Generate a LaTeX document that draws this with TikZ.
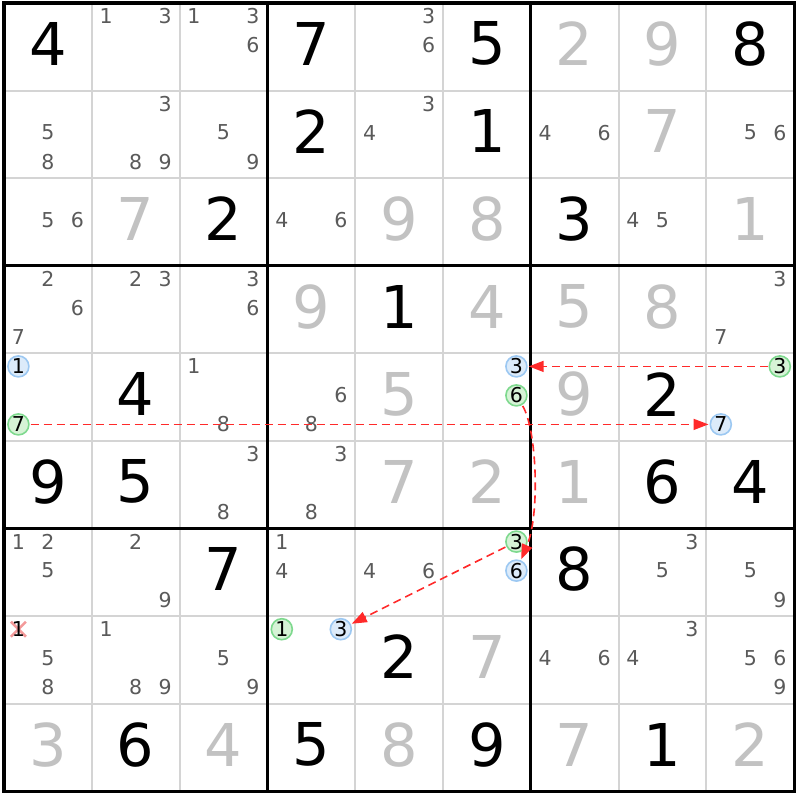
\documentclass[tikz,border=0pt]{standalone}
\usepackage{fontspec}
\setmainfont{DejaVu Sans}
\usetikzlibrary{arrows.meta,calc}
\definecolor{solvedgray}{HTML}{C2C2C2}
\definecolor{candgray}{HTML}{5A5A5A}
\definecolor{gridthin}{HTML}{D4D4D4}
\definecolor{bluefill}{HTML}{DCEBFA}
\definecolor{blueline}{HTML}{9CC8F2}
\definecolor{greenfill}{HTML}{D6F3D6}
\definecolor{greenline}{HTML}{7ED98E}
\definecolor{linkred}{HTML}{FF2A2A}
\definecolor{crosspink}{HTML}{F39A9A}
\begin{document}
\begin{tikzpicture}[x=1pt,y=-1pt,
 givend/.style={font=\fontsize{59}{59}\selectfont, text=black, inner sep=0pt},
 solvedd/.style={givend, text=solvedgray},
 candd/.style={font=\fontsize{20.5}{20.5}\selectfont, text=candgray, inner sep=0pt},
 bluec/.style={circle, draw=blueline, fill=bluefill, line width=1.6pt, minimum size=21pt, inner sep=0pt, font=\fontsize{20.5}{20.5}\selectfont, text=black},
 greenc/.style={bluec, draw=greenline, fill=greenfill},
 link/.style={draw=linkred, line width=1.6pt, dash pattern=on 8pt off 5pt, -{Triangle[length=15pt,width=11pt]}, shorten >=1pt, shorten <=1pt},
 thinline/.style={draw=gridthin, line width=2pt},
 thickline/.style={draw=black, line width=3.2pt}
]
\useasboundingbox (0,0) rectangle (800,800);
\fill[white] (0,0) rectangle (800,800);
% grid
\foreach \i in {1,2,4,5,7,8}{
  \draw[thinline] ({4+87.8*\i},3) -- ({4+87.8*\i},791.4);
  \draw[thinline] (4,{3+87.6*\i}) -- (794.2,{3+87.6*\i});
}
\foreach \i in {0,3,6,9}{
  \draw[thickline] ({4+87.8*\i},1.4) -- ({4+87.8*\i},793);
  \draw[thickline] (2.4,{3+87.6*\i}) -- (795.8,{3+87.6*\i});
}
% given digits
\foreach \r/\c/\d in {0/0/4,0/3/7,0/5/5,0/8/8,1/3/2,1/5/1,2/2/2,2/6/3,3/4/1,4/1/4,4/7/2,5/0/9,5/1/5,5/7/6,5/8/4,6/2/7,6/6/8,7/4/2,8/1/6,8/3/5,8/5/9,8/7/1}{
  \node[givend] (gv-\r-\c) at ({4+87.8*(\c+0.5)},{3+87.6*(\r+0.5)-3}) {\d};
}
% solved digits
\foreach \r/\c/\d in {0/6/2,0/7/9,1/7/7,2/1/7,2/4/9,2/5/8,2/8/1,3/3/9,3/5/4,3/6/5,3/7/8,4/4/5,4/6/9,5/4/7,5/5/2,5/6/1,7/5/7,8/0/3,8/2/4,8/4/8,8/6/7,8/8/2}{
  \node[solvedd] (sv-\r-\c) at ({4+87.8*(\c+0.5)},{3+87.6*(\r+0.5)-3}) {\d};
}
% candidates
\foreach \r/\c/\n in {0/1/1,0/1/3,0/2/1,0/2/3,0/2/6,0/4/3,0/4/6,
 1/0/5,1/0/8,1/1/3,1/1/8,1/1/9,1/2/5,1/2/9,1/4/3,1/4/4,1/6/4,1/6/6,1/8/5,1/8/6,
 2/0/5,2/0/6,2/3/4,2/3/6,2/7/4,2/7/5,
 3/0/2,3/0/6,3/0/7,3/1/2,3/1/3,3/2/3,3/2/6,3/8/3,3/8/7,
 4/2/1,4/2/8,4/3/6,4/3/8,
 5/2/3,5/2/8,5/3/3,5/3/8,
 6/0/1,6/0/2,6/0/5,6/1/2,6/1/9,6/3/1,6/3/4,6/4/4,6/4/6,6/7/3,6/7/5,6/8/5,6/8/9,
 7/0/5,7/0/8,7/1/1,7/1/8,7/1/9,7/2/5,7/2/9,7/6/4,7/6/6,7/7/3,7/7/4,7/8/5,7/8/6,7/8/9}{
  \pgfmathsetmacro\cdx{mod(\n-1,3)-1}
  \pgfmathsetmacro\cdy{int((\n-1)/3)-1}
  \node[candd] (cd-\r-\c-\n) at ({4+87.8*(\c+0.5)+29.5*\cdx},{3+87.6*(\r+0.5)-1.8+29*\cdy}) {\n};
}
% eliminated candidate
\coordinate (xc) at ({4+87.8*0.5-29.5},{3+87.6*7.5-1.8-29});
\draw[crosspink, line width=2.6pt] ($(xc)+(-7.5,-7.5)$) -- ($(xc)+(7.5,7.5)$);
\draw[crosspink, line width=2.6pt] ($(xc)+(-7.5,7.5)$) -- ($(xc)+(7.5,-7.5)$);
\node[candd, text=black] (cd-7-0-1) at (xc) {1};
% highlighted candidates
\node[bluec]  (b40) at ({4+87.8*0.5-29.5},{3+87.6*4.5-1.8-29}) {1};
\node[greenc] (g40) at ({4+87.8*0.5-29.5},{3+87.6*4.5-1.8+29}) {7};
\node[bluec]  (b45) at ({4+87.8*5.5+29.5},{3+87.6*4.5-1.8-29}) {3};
\node[greenc] (g45) at ({4+87.8*5.5+29.5},{3+87.6*4.5-1.8}) {6};
\node[greenc] (g48) at ({4+87.8*8.5+29.5},{3+87.6*4.5-1.8-29}) {3};
\node[bluec]  (b48) at ({4+87.8*8.5-29.5},{3+87.6*4.5-1.8+29}) {7};
\node[greenc] (g65) at ({4+87.8*5.5+29.5},{3+87.6*6.5-1.8-29}) {3};
\node[bluec]  (b65) at ({4+87.8*5.5+29.5},{3+87.6*6.5-1.8}) {6};
\node[greenc] (g73) at ({4+87.8*3.5-29.5},{3+87.6*7.5-1.8-29}) {1};
\node[bluec]  (b73) at ({4+87.8*3.5+29.5},{3+87.6*7.5-1.8-29}) {3};
% links
\draw[link] (g48) -- (b45);
\draw[link] (g40) -- (b48);
\draw[link] (g45) .. controls (537,430) and (540,515) .. (b65);
\draw[link] (g65) -- (b73);
\end{tikzpicture}
\end{document}
